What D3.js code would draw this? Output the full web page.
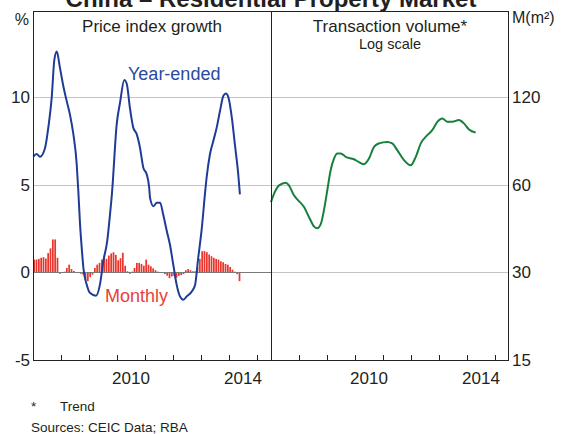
<!DOCTYPE html>
<html>
<head>
<meta charset="utf-8">
<script src="https://cdn.jsdelivr.net/npm/d3@7"></script>
<style>
  body { margin: 0; background: #fff; }
  text { font-family: "Liberation Sans", Arial, sans-serif; fill: #231f20; }
</style>
</head>
<body>
<div id="chart"></div>
<script>
/////////////////////////////////////
///      DATA
/////////////////////////////////////

// year-ended price growth, % (decimal year, value)
var yeDates = [2007.01, 2007.13, 2007.25, 2007.43, 2007.55, 2007.67, 2007.76, 2007.85, 2007.96,
  2008.08, 2008.2, 2008.32, 2008.44, 2008.56, 2008.62, 2008.68, 2008.74, 2008.8, 2008.92,
  2009.04, 2009.25, 2009.39, 2009.51, 2009.65, 2009.75, 2009.82, 2009.99, 2010.11, 2010.26,
  2010.35, 2010.46, 2010.58, 2010.7, 2010.82, 2010.94, 2011.06, 2011.15, 2011.18, 2011.3,
  2011.42, 2011.54, 2011.65, 2011.78, 2011.89, 2012.01, 2012.13, 2012.25, 2012.37, 2012.49,
  2012.67, 2012.79, 2012.9, 2013.03, 2013.14, 2013.2, 2013.32, 2013.44, 2013.56, 2013.68,
  2013.8, 2013.89, 2013.98, 2014.1, 2014.21, 2014.33, 2014.39];
var yeValues = [6.6, 6.75, 6.6, 7.1, 8.3, 10.0, 12.1, 12.6, 11.7,
  10.65, 9.8, 9.0, 7.9, 6.2, 4.6, 2.75, 1.4, 0.25, -0.7,
  -1.18, -1.33, -0.7, 0.63, 1.78, 3.3, 4.5, 8.46, 9.7, 10.98,
  10.75, 9.4, 8.26, 7.9, 7.12, 5.97, 5.6, 4.83, 4.25, 3.78,
  3.97, 3.97, 3.3, 2.35, 1.59, 0.44, -0.7, -1.37, -1.56, -1.37,
  -1.09, -0.7, 0.82, 2.54, 4.45, 5.4, 6.74, 7.5, 8.26, 9.22,
  10.08, 10.2, 9.98, 8.84, 7.3, 5.6, 4.45];

// monthly price growth, %, from January 2007
var monthlyStart = 2007;
var monthlyValues = [
  0.73, 0.73, 0.77, 0.83, 0.87, 0.79, 1.1, 1.37, 1.88, 1.88, 0.83, -0.08,
  0.02, 0.04, 0.25, 0.44, 0.19, 0.08, 0.02, -0.04, -0.08, -0.13, -0.42, -0.5,
  -0.27, -0.13, 0.25, 0.44, 0.54, 0.73, 0.96, 0.77, 0.96, 1.08, 1.15, 1.0,
  0.69, 0.81, 1.12, 0.38, 0.06, -0.08, 0.04, 0.25, 0.54, 0.54, 0.48, 0.38,
  0.73, 0.44, 0.35, 0.23, 0.12, 0.04, 0.02, -0.04, -0.1, -0.19, -0.33, -0.23,
  -0.2, -0.3, -0.2, -0.15, -0.1, 0.12, 0.19, 0.12, 0.06, 0.06, 0.3, 0.77,
  1.21, 1.21, 1.15, 1.02, 0.92, 0.83, 0.77, 0.73, 0.63, 0.58, 0.48, 0.44,
  0.31, 0.15, 0.04, -0.1, -0.5];

// transaction volume trend, million m2
var volDates = [2007.0, 2007.11, 2007.29, 2007.53, 2007.64, 2007.82, 2007.94, 2008.18, 2008.36,
  2008.54, 2008.65, 2008.78, 2008.89, 2009.01, 2009.13, 2009.25, 2009.37, 2009.49, 2009.67,
  2009.96, 2010.14, 2010.32, 2010.5, 2010.68, 2010.86, 2011.15, 2011.33, 2011.51, 2011.75,
  2011.99, 2012.17, 2012.35, 2012.58, 2012.76, 2012.94, 2013.12, 2013.3, 2013.48, 2013.71,
  2013.89, 2014.07, 2014.31];
var volValues = [52.3, 55.9, 59.7, 61.0, 59.7, 55.2, 53.4, 50.3, 46.4,
  43.1, 42.5, 44.0, 49.0, 57.4, 67.3, 73.8, 76.8, 76.8, 74.8,
  73.4, 71.8, 70.6, 73.8, 81.0, 83.2, 84.2, 83.2, 78.9, 72.9,
  70.0, 74.8, 83.2, 88.8, 92.4, 98.7, 101.4, 98.7, 98.7, 100.1,
  97.5, 92.9, 90.7];

var leftTicks = [-5, 0, 5, 10];
var rightTicks = [15, 30, 60, 120];
var yearTicks = [2008, 2009, 2010, 2011, 2012, 2013, 2014, 2015];
var yearLabels = [2010, 2014];

/////////////////////////////////////
///      CHART
/////////////////////////////////////

var width = 570, height = 434;
var margin = {left: 33, right: 61, top: 11, bottom: 74};
var mid = 271;
var bottom = height - margin.bottom, right = width - margin.right;

var xL = d3.scaleLinear().domain([2007, 2015.5]).range([margin.left, mid]);
var xR = d3.scaleLinear().domain([2007, 2015.5]).range([mid, right]);
var yL = d3.scaleLinear().domain([-5, 15]).range([bottom, 9.5]);
var yR = d3.scaleLog().base(2).domain([15, 240]).range([bottom, 9.5]);

var svg = d3.select("#chart").append("svg")
  .attr("width", width)
  .attr("height", height);

// title (mostly cut off at the top, as in the source)
svg.append("text")
  .attr("x", 271).attr("y", 7)
  .attr("text-anchor", "middle")
  .style("font-size", "24px").style("font-weight", "bold")
  .text("China – Residential Property Market");

// gridlines
svg.append("g").selectAll("line")
  .data([5, 10]).enter().append("line")
  .attr("x1", margin.left).attr("x2", right)
  .attr("y1", function(d) { return Math.round(yL(d)) + 0.5; })
  .attr("y2", function(d) { return Math.round(yL(d)) + 0.5; })
  .attr("stroke", "#c4c4c4");
svg.append("line")
  .attr("x1", mid).attr("x2", right)
  .attr("y1", Math.round(yR(30)) + 0.5).attr("y2", Math.round(yR(30)) + 0.5)
  .attr("stroke", "#c4c4c4");

// monthly bars
var step = xL(2007 + 1 / 12) - xL(2007);
svg.append("g").selectAll("rect")
  .data(monthlyValues).enter().append("rect")
  .attr("x", function(d, i) { return xL(monthlyStart + i / 12) + 0.3; })
  .attr("width", step - 0.6)
  .attr("y", function(d) { return yL(Math.max(0, d)); })
  .attr("height", function(d) { return Math.abs(yL(d) - yL(0)); })
  .attr("fill", "#e8362c");

// zero line
svg.append("line")
  .attr("x1", margin.left).attr("x2", mid)
  .attr("y1", Math.round(yL(0)) + 0.5).attr("y2", Math.round(yL(0)) + 0.5)
  .attr("stroke", "#7a7a7a").attr("stroke-width", 1.2);

// year-ended line
var yeLine = d3.line()
  .x(function(d) { return xL(d[0]); })
  .y(function(d) { return yL(d[1]); })
  .curve(d3.curveMonotoneX);
svg.append("path")
  .datum(d3.zip(yeDates, yeValues))
  .attr("d", yeLine)
  .attr("fill", "none").attr("stroke", "#1e3c96").attr("stroke-width", 2);

// volume line
var volLine = d3.line()
  .x(function(d) { return xR(d[0]); })
  .y(function(d) { return yR(d[1]); })
  .curve(d3.curveMonotoneX);
svg.append("path")
  .datum(d3.zip(volDates, volValues))
  .attr("d", volLine)
  .attr("fill", "none").attr("stroke", "#17803c").attr("stroke-width", 2);

// frame
svg.append("rect")
  .attr("x", margin.left + 0.5).attr("y", margin.top + 0.5)
  .attr("width", right - margin.left - 1).attr("height", bottom - margin.top)
  .attr("fill", "none").attr("stroke", "#222");
svg.append("line")
  .attr("x1", mid + 0.5).attr("x2", mid + 0.5)
  .attr("y1", margin.top).attr("y2", bottom)
  .attr("stroke", "#222");

// x ticks (inside) and labels
[xL, xR].forEach(function(x) {
  svg.append("g").selectAll("line")
    .data(yearTicks).enter().append("line")
    .attr("x1", function(d) { return Math.round(x(d)) + 0.5; })
    .attr("x2", function(d) { return Math.round(x(d)) + 0.5; })
    .attr("y1", bottom).attr("y2", bottom - 5)
    .attr("stroke", "#222");
  svg.append("g").selectAll("text")
    .data(yearLabels).enter().append("text")
    .attr("x", function(d) { return x(d + 0.5); })
    .attr("y", bottom + 24)
    .attr("text-anchor", "middle")
    .style("font-size", "17px")
    .text(function(d) { return d; });
});

// y labels
svg.append("g").selectAll("text")
  .data(leftTicks).enter().append("text")
  .attr("x", margin.left - 3)
  .attr("y", function(d) { return yL(d) + 6; })
  .attr("text-anchor", "end")
  .style("font-size", "17px")
  .text(function(d) { return d; });
svg.append("g").selectAll("text")
  .data(rightTicks).enter().append("text")
  .attr("x", right + 3)
  .attr("y", function(d) { return yR(d) + 6; })
  .attr("text-anchor", "start")
  .style("font-size", "17px")
  .text(function(d) { return d; });

svg.append("text").attr("x", 29).attr("y", 25)
  .attr("text-anchor", "end").style("font-size", "16px").text("%");
svg.append("text").attr("x", right + 3).attr("y", 23)
  .style("font-size", "16px").text("M(m²)");

// panel titles
svg.append("text").attr("x", (margin.left + mid) / 2).attr("y", 32)
  .attr("text-anchor", "middle").style("font-size", "17px").text("Price index growth");
svg.append("text").attr("x", (mid + right) / 2).attr("y", 32)
  .attr("text-anchor", "middle").style("font-size", "17px").text("Transaction volume*");
svg.append("text").attr("x", (mid + right) / 2).attr("y", 49)
  .attr("text-anchor", "middle").style("font-size", "14.5px").text("Log scale");

// series labels
svg.append("text").attr("x", 128).attr("y", 80)
  .style("font-size", "18px").style("fill", "#2a4aa0").text("Year-ended");
svg.append("text").attr("x", 105).attr("y", 302)
  .style("font-size", "18px").style("fill", "#e8413a").text("Monthly");

// notes
svg.append("text").attr("x", 31).attr("y", 411)
  .style("font-size", "13.5px").text("*");
svg.append("text").attr("x", 60).attr("y", 411)
  .style("font-size", "13.5px").text("Trend");
svg.append("text").attr("x", 31).attr("y", 432)
  .style("font-size", "13.5px").text("Sources:  CEIC Data; RBA");
</script>
</body>
</html>
